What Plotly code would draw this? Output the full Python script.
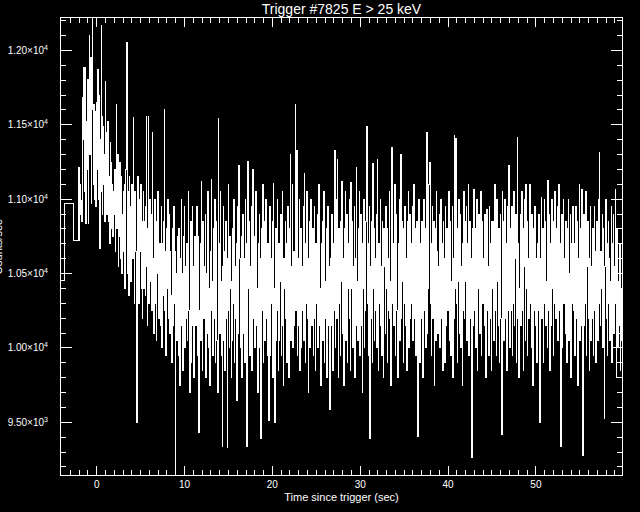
import plotly.graph_objects as go

# --- data ---
title_text = "Trigger #7825 E > 25 keV"
x_title = "Time since trigger (sec)"
y_title = "Counts/sec"

# coarse pre-trigger bins (start times, s) and rates
pre_starts = [-4.6, -3.64, -2.61]
pre_rates = [10455, 10970, 10720]

# fine 64 ms bins, first bin start (s) and width (s); one row = 16 bins = 1.024 s
fine_start = -2.048
fine_width = 0.064
fine_rates = [
    11216, 10720, 10900, 11100, 10990, 10850, 11300, 11683, 11400, 11883, 11050, 11885, 11300, 10840, 11522, 11200,
    11803, 10840, 11500, 12100, 11300, 11950, 10970, 11700, 12260, 11600, 11100, 11634, 11000, 11590, 10950, 11520,
    11648, 11200, 11870, 11000, 11700, 10670, 11400, 11050, 12168, 11555, 10900, 11492, 11100, 11300, 10850, 11790,
    11200, 11445, 10900, 11300, 11522, 10850, 11150, 10700, 11380, 10950, 11250, 10800, 11100, 10750, 11050, 10900,
    11200, 10650, 11050, 11634, 10800, 11300, 10550, 11000, 10750, 11250, 10600, 10950, 11150, 10500, 10900, 11050,
    10650, 11100, 10400, 10950, 11200, 12050, 10500, 10850, 11050, 10350, 11150, 10650, 10950, 10450, 11100, 10750,
    10600, 11550, 10800, 10300, 11050, 10650, 10450, 9500, 10900, 11150, 10550, 10300, 11000, 10650, 11100, 10400,
    10850, 10200, 10750, 11050, 10400, 10850, 10350, 10950, 11555, 10550, 10150, 10800, 11555, 10300, 11000, 10600,
    10450, 10900, 10250, 11450, 10600, 10100, 10800, 11000, 10300, 10700, 10050, 10850, 10500, 11050, 10200, 10600,
    10700, 10150, 10550, 10950, 10000, 10700, 10350, 10850, 11600, 10250, 10650, 9950, 10800, 10400, 11000, 10200,
    10550, 10900, 10100, 10650, 10350, 9900, 10800, 10450, 10150, 10950, 10300, 10650, 9000, 10500, 10050, 10750,
    10400, 9950, 10800, 10250, 9750, 10600, 11000, 10150, 10500, 9850, 10750, 10300, 10950, 10000, 10550, 10200,
    10700, 10050, 10450, 11050, 10250, 9700, 10600, 10850, 9900, 10400, 10950, 10150, 10550, 9800, 10750, 10300,
    10150, 10600, 10950, 9950, 10450, 10750, 9433, 10250, 10700, 10050, 11117, 10400, 9850, 10850, 10200, 10550,
    10300, 10900, 9800, 10500, 10100, 10750, 11050, 10000, 10400, 9750, 10650, 10250, 11135, 10450, 9950, 10800,
    10200, 10600, 11000, 9900, 10400, 10850, 10050, 9700, 11540, 10300, 10700, 10100, 11050, 10450, 9950, 9338,
    10550, 10950, 10050, 10650, 9850, 10300, 10850, 10200, 9330, 10600, 11100, 10250, 10000, 10750, 10400, 9800,
    10450, 10050, 10800, 10300, 11000, 9900, 10550, 10200, 10700, 9650, 10400, 10950, 10100, 11225, 10600, 10000,
    10250, 10750, 9800, 10450, 10900, 10100, 10600, 9900, 11000, 10300, 10700, 9338, 10050, 11256, 10400, 10850,
    9950, 10550, 10250, 10950, 9850, 10450, 11200, 10200, 10750, 10000, 10600, 11050, 10150, 10400, 9700, 10700,
    10300, 10900, 10000, 10600, 9390, 10800, 10250, 11100, 9900, 10450, 10850, 10050, 10550, 11000, 10200, 9950,
    10700, 10150, 9512, 10450, 10950, 9950, 10600, 10300, 10850, 9800, 11108, 10400, 10200, 9500, 10800, 10050,
    10550, 11000, 10250, 9850, 10700, 10050, 10450, 10900, 9950, 10300, 11050, 10150, 9750, 10600, 10400, 10850,
    10200, 10700, 9900, 10450, 10950, 10250, 9800, 10800, 11300, 10050, 10550, 10300, 11100, 10000, 10650, 10150,
    10400, 11634, 10250, 10900, 11330, 9950, 10600, 10150, 11000, 9850, 10450, 10800, 10000, 10550, 10250, 10950,
    10050, 11170, 10450, 9900, 10700, 10300, 11050, 10200, 9700, 10600, 10850, 10000, 10400, 11000, 10150, 10550,
    10800, 9950, 10450, 10950, 10200, 9850, 10700, 10300, 10900, 10000, 10550, 11100, 10150, 10400, 9750, 10700,
    10250, 10850, 10050, 10600, 11050, 9900, 10450, 10200, 10800, 9800, 10350, 10950, 10150, 10550, 9950, 9587,
    10600, 10150, 10900, 10400, 9850, 10700, 10250, 11330, 10000, 10500, 11000, 10200, 11270, 10450, 9800, 10800,
    10300, 9950, 10850, 10450, 11120, 10100, 10600, 9750, 10800, 10250, 11050, 10050, 10500, 10900, 9900, 10400,
    10700, 10200, 11000, 9850, 11115, 10400, 10850, 10000, 10550, 10250, 10950, 9800, 10600, 10150, 11210, 10450,
    10050, 10800, 10300, 11050, 9950, 10500, 10900, 10150, 9700, 10700, 10400, 11000, 10000, 10600, 10250, 10850,
    11490, 10300, 10700, 9950, 10450, 10950, 9390, 10550, 10200, 10850, 9900, 11240, 10400, 10800, 10050, 10600,
    10250, 10900, 10000, 11270, 10450, 9850, 10700, 10300, 11000, 10150, 10550, 9950, 10850, 10400, 9800, 10800,
    10550, 10100, 10950, 10400, 10800, 9900, 10600, 10250, 11050, 10200, 10450, 9750, 10850, 11350, 10300, 10700,
    10150, 10600, 11100, 9950, 10450, 10900, 10250, 9800, 10700, 10400, 11000, 10050, 10550, 11300, 10200, 10850,
    10450, 9900, 10800, 10300, 10950, 10150, 10600, 9850, 10850, 10250, 11050, 10000, 10550, 10900, 10200, 10700,
    10300, 10950, 10050, 10550, 11100, 10200, 10800, 9950, 10450, 10850, 10150, 9405, 10600, 11000, 10250, 9900,
    10700, 10200, 10850, 10450, 9800, 10600, 11000, 10250, 10800, 10000, 10550, 11445, 10100, 10900, 10400, 11100,
    11250, 10300, 10700, 9950, 10550, 10950, 10200, 10850, 9750, 10450, 10800, 10050, 11050, 10300, 10650, 10100,
    10550, 10900, 10000, 10400, 11000, 10200, 10700, 9850, 10850, 10300, 10600, 9900, 10950, 10450, 10150, 10800,
    10250, 10700, 11050, 10050, 10550, 10850, 9950, 10450, 10950, 9800, 10600, 10200, 11425, 10400, 10800, 11405,
    10300, 9900, 10800, 10450, 11000, 10100, 10600, 10900, 10000, 10550, 9750, 10700, 10250, 11050, 10200, 10850,
    10450, 10950, 10050, 10700, 10300, 11100, 9950, 10550, 10850, 10200, 10600, 9264, 10400, 10800, 10150, 11068,
    10250, 10800, 10000, 10550, 11000, 9850, 10700, 10400, 10900, 10100, 10600, 11050, 9950, 10450, 10850, 10300,
    10600, 10150, 10900, 10400, 9800, 10750, 10930, 10250, 10550, 9950, 10950, 10450, 10200, 10700, 9850, 10850,
    10400, 10850, 10050, 10600, 11100, 10250, 10700, 9950, 11000, 10450, 10150, 10800, 9900, 10550, 10900, 10200,
    9420, 11055, 10300, 10850, 10050, 10600, 11000, 10200, 10700, 9850, 10450, 10950, 10250, 11225, 10550, 10000,
    10800, 10250, 10950, 9950, 10550, 10300, 11050, 10150, 10600, 10900, 9900, 10450, 11415, 10200, 10700, 9800,
    10400, 10900, 10150, 10600, 11050, 10250, 10800, 9850, 10550, 11000, 10050, 11100, 10400, 10850, 9950, 10600,
    10200, 10700, 11100, 10300, 10550, 10000, 10900, 10400, 9750, 10800, 10250, 10950, 10150, 10600, 10450, 9900,
    10700, 10250, 10900, 10050, 9500, 10600, 10400, 11010, 10200, 10800, 9900, 10450, 11000, 10300, 10850, 10150,
    10450, 10000, 11128, 10550, 10250, 10900, 9850, 10700, 10150, 11000, 10400, 10600, 9950, 10850, 10300, 11050,
    10200, 10800, 10400, 10950, 10050, 10600, 11100, 10250, 10700, 9338, 10450, 10900, 10000, 10550, 11000, 10300,
    10600, 10100, 10850, 10400, 9900, 10800, 10250, 11000, 10050, 10500, 10900, 9800, 10700, 10300, 10450, 10950,
    10250, 10700, 9950, 10450, 10950, 10200, 10850, 10400, 9750, 10600, 11100, 10050, 10550, 10800, 10150, 11068,
    9276, 10450, 10900, 10150, 10700, 10300, 11050, 9950, 10550, 10850, 10200, 10600, 9850, 10400, 10950, 10050,
    10550, 10200, 10800, 9950, 10450, 10950, 10250, 10650, 9900, 10850, 10400, 10050, 10700, 11000, 11315, 10300,
    10150, 10650, 10400, 10900, 10000, 10800, 10250, 9526, 10550, 11000, 10200, 10700, 9950, 10450, 10850, 10300,
    10600, 10050, 10450, 10950, 9900, 10700, 10250, 10900, 10100, 10550, 11068, 10300, 9800, 10800, 10200, 10000,
    10450, 10150, 10700, 9850, 10300, 10050, 10400,
]

x_range = [-4.06, 59.8]
y_range = [9146, 12218]
x_tickvals = [0, 10, 20, 30, 40, 50]
x_ticktext = ["0", "10", "20", "30", "40", "50"]
y_tickvals = [9500, 10000, 10500, 11000, 11500, 12000]
y_ticktext = ["9.50×10<sup>3</sup>", "1.00×10<sup>4</sup>", "1.05×10<sup>4</sup>",
              "1.10×10<sup>4</sup>", "1.15×10<sup>4</sup>", "1.20×10<sup>4</sup>"]

# --- build step series ---
fine_starts = [fine_start + fine_width * i for i in range(len(fine_rates))]
xs = pre_starts + fine_starts + [fine_starts[-1] + fine_width]
ys = pre_rates + fine_rates + [fine_rates[-1]]

FONT = "Liberation Sans"
W, H = 640, 512
ML, MR, MT, MB = 61, 18, 18, 37

fig = go.Figure()
fig.add_trace(go.Scatter(x=xs, y=ys, mode="lines", line=dict(color="white", width=1, shape="hv"),
                         hoverinfo="skip", showlegend=False))

axis_common = dict(showgrid=False, zeroline=False, showline=True, linecolor="white", linewidth=1,
                   mirror="allticks", ticks="inside", tickcolor="white", tickwidth=1,
                   tickfont=dict(family=FONT, size=10, color="white"), automargin=False)

fig.update_xaxes(range=x_range, tickvals=x_tickvals, ticktext=x_ticktext, ticklen=9,
                 minor=dict(ticks="inside", ticklen=5, dtick=1, tickcolor="white", tickwidth=1),
                 title=dict(text=x_title, font=dict(family=FONT, size=11, color="white"), standoff=4),
                 **axis_common)
fig.update_yaxes(range=y_range, tickvals=y_tickvals, ticktext=y_ticktext, ticklen=11,
                 minor=dict(ticks="inside", ticklen=5, dtick=100, tickcolor="white", tickwidth=1),
                 ticklabelstandoff=10,
                 **axis_common)

plot_w = W - ML - MR
fig.add_annotation(text=y_title, textangle=-90, xref="paper", yref="paper",
                   x=(-3 - ML) / plot_w, y=0.5, xanchor="center", yanchor="middle",
                   showarrow=False, font=dict(family=FONT, size=11, color="white"))

fig.update_layout(
    width=W, height=H, template="none",
    paper_bgcolor="black", plot_bgcolor="black",
    margin=dict(l=ML, r=MR, t=MT, b=MB, pad=0),
    title=dict(text=title_text, x=(ML + plot_w / 2) / W, xanchor="center", y=1 - 9 / H, yanchor="middle",
               font=dict(family=FONT, size=14, color="white")),
)

post = (
    "document.body.style.margin='0px';document.body.style.background='black';"
    "document.querySelectorAll('.scatterlayer path').forEach(function(p){p.style.shapeRendering='crispEdges';});"
)
fig.write_html("out.html", config={"displayModeBar": False}, post_script=post)
